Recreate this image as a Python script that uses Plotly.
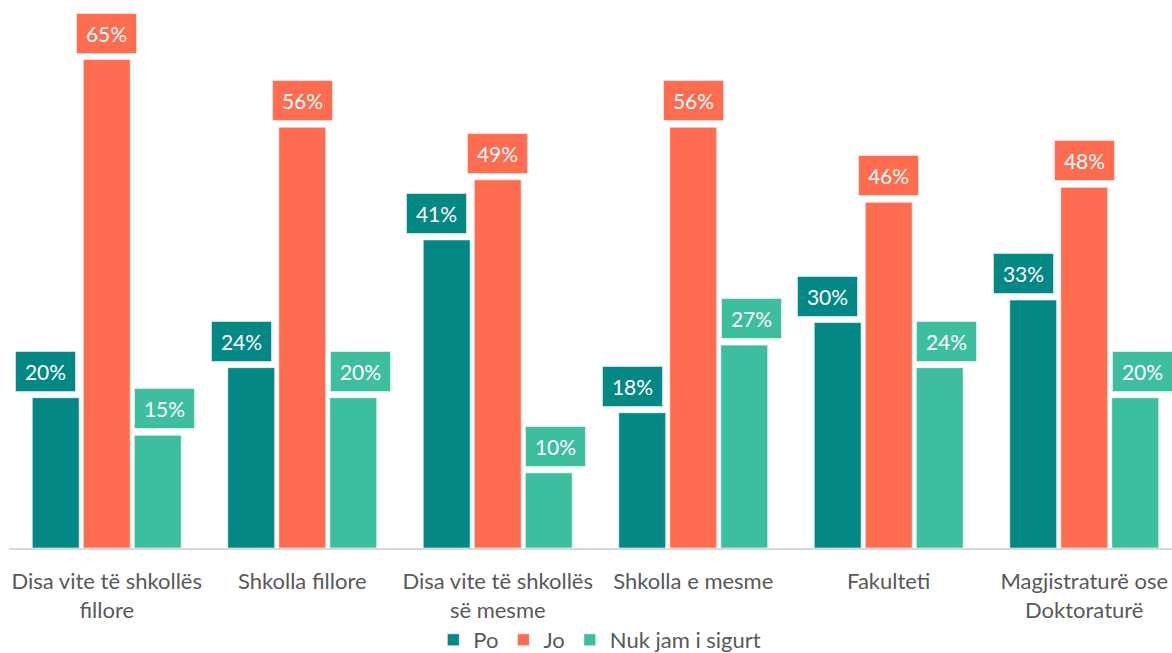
import plotly.graph_objects as go

categories = ["Disa vite të shkollës<br>fillore", "Shkolla fillore", "Disa vite të shkollës<br>së mesme",
              "Shkolla e mesme", "Fakulteti", "Magjistraturë ose<br>Doktoraturë"]
series_names = ["Po", "Jo", "Nuk jam i sigurt"]
po = [20, 24, 41, 18, 30, 33]
jo = [65, 56, 49, 56, 46, 48]
nuk = [15, 20, 10, 27, 24, 20]
colors = ["#038886", "#FF6C4F", "#3DBF9F"]
label_shift = [-10, 0, 7]
bar_offset = [-51, 0, 51]

series = [po, jo, nuk]
FONT = "Lato"

fig = go.Figure()
for name, vals, col in zip(series_names, series, colors):
    fig.add_trace(go.Bar(
        x=list(range(len(categories))), y=vals, name=name,
        marker=dict(color=col, line=dict(color="rgba(255,255,255,0.6)", width=1)),
        hoverinfo="skip",
    ))

annotations = []
for si, (vals, col) in enumerate(zip(series, colors)):
    for ci, v in enumerate(vals):
        annotations.append(dict(
            x=ci, y=v, xref="x", yref="y", text=f"{v}%", showarrow=False,
            xanchor="center", yanchor="bottom",
            xshift=bar_offset[si] + label_shift[si], yshift=6,
            bgcolor=col, bordercolor="rgba(255,255,255,0.5)", borderwidth=1,
            borderpad=8, width=43, height=23,
            font=dict(family=FONT, size=21, color="white"),
        ))

fig.update_layout(
    width=1172, height=653,
    margin=dict(l=9, r=0, t=22, b=105),
    paper_bgcolor="white", plot_bgcolor="white",
    barmode="group", bargap=0.217, bargroupgap=0.08,
    annotations=annotations,
    showlegend=True,
    legend=dict(orientation="h", x=0.508, xanchor="center", yref="container", y=1 - 640 / 653,
                yanchor="middle",
                font=dict(family=FONT, size=22, color="#595959"), itemwidth=30,
                traceorder="normal"),
    font=dict(family=FONT, color="#595959"),
)
fig.update_xaxes(
    tickmode="array", tickvals=list(range(len(categories))), ticktext=categories,
    range=[-0.5, 5.449], showline=True, linecolor="#D9D9D9", linewidth=2,
    showgrid=False, ticks="", tickfont=dict(family=FONT, size=22, color="#595959"),
    ticklabelstandoff=13, automargin=False, fixedrange=True,
)
fig.update_yaxes(range=[0, 70], visible=False, showgrid=False, fixedrange=True, automargin=False)

fig.write_html("out.html", config={"displayModeBar": False},
               post_script="document.body.style.margin='0';document.body.style.overflow='hidden';")
